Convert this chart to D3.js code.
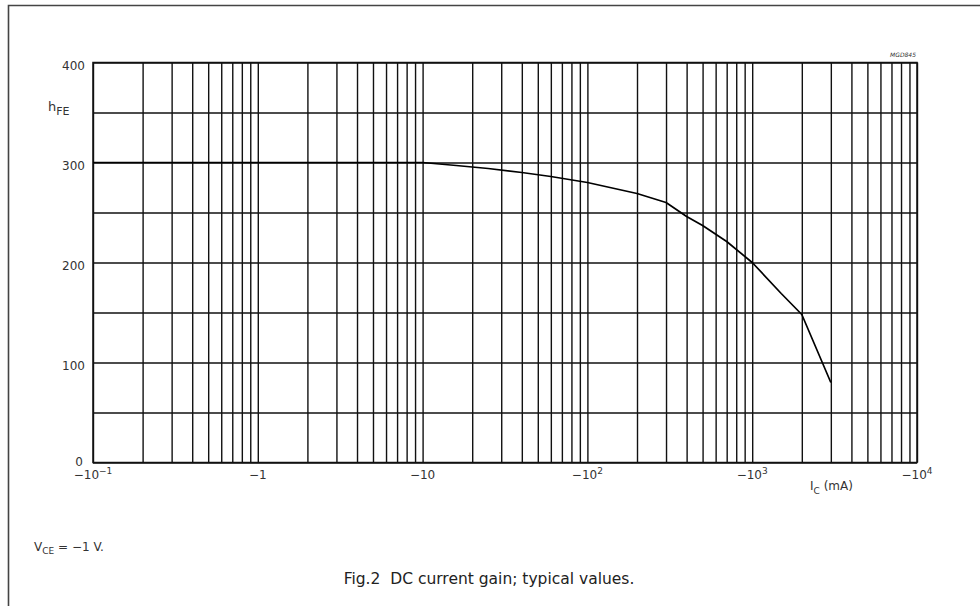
<!DOCTYPE html>
<html>
<head>
<meta charset="utf-8">
<script src="https://cdnjs.cloudflare.com/ajax/libs/d3/7.8.5/d3.min.js"></script>
<style>
  html, body { margin: 0; padding: 0; background: #fff; }
  svg { display: block; font-family: "DejaVu Sans", "Liberation Sans", Arial, sans-serif; }
</style>
</head>
<body>
<div id="chart"></div>
<script>
// collector current (mA, magnitude) and DC current gain
const icValues = [0.1, 1, 10, 16, 25, 40, 60, 100, 200, 300, 400, 500, 700, 1000, 1500, 2000, 3000];
const hfeValues = [300, 300, 300, 297, 294, 290, 286, 280, 269, 260, 246, 237, 221, 200, 169, 148, 80];

// axis labels: base and exponent ("" = none)
const xTickValues = [0.1, 1, 10, 100, 1000, 10000];
const xTickBases = ["\u221210", "\u22121", "\u221210", "\u221210", "\u221210", "\u221210"];
const xTickExps = ["\u22121", "", "", "2", "3", "4"];
const yTickValues = [0, 100, 200, 300, 400];
const yGridValues = [0, 50, 100, 150, 200, 250, 300, 350, 400];

const width = 980, height = 606;
const margin = { top: 62.5, right: 63, bottom: 143.5, left: 93 };
const chartWidth = width - margin.left - margin.right;
const chartHeight = height - margin.top - margin.bottom;

const root = d3.select("#chart")
  .append("svg")
  .attr("width", width)
  .attr("height", height);

// page frame (only top and left edge visible)
root.append("path")
  .attr("d", `M8.5,${height} V5.5 H${width}`)
  .attr("fill", "none")
  .attr("stroke", "#444")
  .attr("stroke-width", 1.6);

const svg = root.append("g")
  .attr("transform", `translate(${margin.left},${margin.top})`);

const x = d3.scaleLog()
  .domain([0.1, 10000])
  .range([0, chartWidth]);

const y = d3.scaleLinear()
  .domain([0, 400])
  .range([chartHeight, 0]);

// vertical log grid
svg.append("g")
  .attr("transform", `translate(0,${chartHeight})`)
  .call(d3.axisBottom(x).tickValues(x.ticks()).tickSize(-chartHeight).tickFormat(""))
  .call(g => g.select(".domain").remove())
  .call(g => g.selectAll("line").attr("stroke", "#111").attr("stroke-width", 1.4));

// horizontal grid
svg.append("g")
  .call(d3.axisLeft(y).tickValues(yGridValues).tickSize(-chartWidth).tickFormat(""))
  .call(g => g.select(".domain").remove())
  .call(g => g.selectAll("line").attr("stroke", "#111").attr("stroke-width", 1.4));

// plot frame
svg.append("rect")
  .attr("width", chartWidth)
  .attr("height", chartHeight)
  .attr("fill", "none")
  .attr("stroke", "#111")
  .attr("stroke-width", 1.5);

// y tick labels
svg.append("g")
  .selectAll("text")
  .data(yTickValues)
  .join("text")
  .attr("x", d => d === 0 ? -10 : -8)
  .attr("y", d => d === 0 ? y(d) + 3 : y(d) + 7)
  .attr("text-anchor", "end")
  .attr("font-size", 12)
  .attr("fill", "#333")
  .text(d => d);

// x tick labels with exponents
const xl = svg.append("g")
  .selectAll("text")
  .data(xTickValues)
  .join("text")
  .attr("x", d => x(d))
  .attr("y", chartHeight + 16)
  .attr("text-anchor", "middle")
  .attr("font-size", 12)
  .attr("fill", "#333");
xl.append("tspan").text((d, i) => xTickBases[i]);
xl.append("tspan")
  .attr("dy", -5)
  .attr("font-size", 9)
  .text((d, i) => xTickExps[i]);

// axis titles
const yTitle = root.append("text")
  .attr("x", 48)
  .attr("y", 111)
  .attr("font-size", 13)
  .attr("fill", "#333");
yTitle.append("tspan").text("h");
yTitle.append("tspan").attr("dy", 4).attr("font-size", 11).text("FE");

const xTitle = root.append("text")
  .attr("x", 810)
  .attr("y", 490)
  .attr("font-size", 12)
  .attr("fill", "#333");
xTitle.append("tspan").text("I");
xTitle.append("tspan").attr("dy", 4).attr("font-size", 9).text("C");
xTitle.append("tspan").attr("dy", -4).text(" (mA)");

root.append("text")
  .attr("x", 916)
  .attr("y", 57)
  .attr("text-anchor", "end")
  .attr("font-size", 6)
  .attr("font-style", "italic")
  .attr("fill", "#333")
  .text("MGD845");

// the curve
svg.append("path")
  .datum(icValues.map((d, i) => [d, hfeValues[i]]))
  .attr("fill", "none")
  .attr("stroke", "#000")
  .attr("stroke-width", 1.7)
  .attr("stroke-linejoin", "round")
  .attr("d", d3.line()
    .x(d => x(d[0]))
    .y(d => y(d[1])));

// notes
const note = root.append("text")
  .attr("x", 34)
  .attr("y", 551)
  .attr("font-size", 12)
  .attr("fill", "#333");
note.append("tspan").text("V");
note.append("tspan").attr("dy", 3).attr("font-size", 9).text("CE");
note.append("tspan").attr("dy", -3).text(" = \u22121 V.");

root.append("text")
  .attr("x", 489)
  .attr("y", 584)
  .attr("text-anchor", "middle")
  .attr("font-size", 15.5)
  .attr("fill", "#222")
  .attr("xml:space", "preserve")
  .text("Fig.2  DC current gain; typical values.");
</script>
</body>
</html>
